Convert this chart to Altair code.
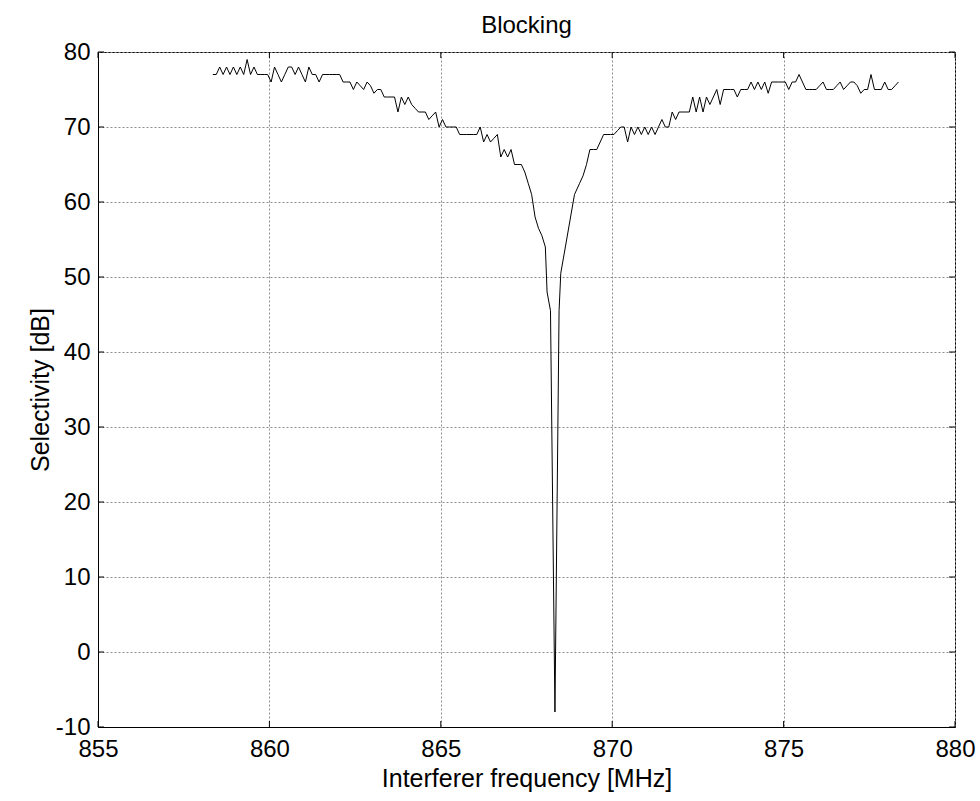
import altair as alt
import pandas as pd

# Left flank (interferer below carrier), 0.1 MHz sweep points
freq_left = [
    858.35, 858.45, 858.55, 858.65, 858.75, 858.85, 858.95, 859.05, 859.15, 859.25,
    859.35, 859.45, 859.55, 859.65, 859.75, 859.85, 859.95, 860.05, 860.15, 860.25,
    860.35, 860.45, 860.55, 860.65, 860.75, 860.85, 860.95, 861.05, 861.15, 861.25,
    861.35, 861.45, 861.55, 861.65, 861.75, 861.85, 861.95, 862.05, 862.15, 862.25,
    862.35, 862.45, 862.55, 862.65, 862.75, 862.85, 862.95, 863.05, 863.15, 863.25,
    863.35, 863.45, 863.55, 863.65, 863.75, 863.85, 863.95, 864.05, 864.15, 864.25,
    864.35, 864.45, 864.55, 864.65, 864.75, 864.85, 864.95, 865.05, 865.15, 865.25,
    865.35, 865.45, 865.55, 865.65, 865.75, 865.85, 865.95, 866.05, 866.15, 866.25,
    866.35, 866.45, 866.55, 866.65, 866.75, 866.85, 866.95, 867.05, 867.15, 867.25,
    867.35,
]
sel_left = [
    77, 77, 78, 77, 78, 77, 78, 77, 78, 77,
    79, 77, 78, 77, 77, 77, 77, 76, 78, 77,
    76, 77, 78, 78, 77, 78, 77, 76, 78, 77,
    77, 76, 77, 77, 77, 77, 77, 77, 76, 76,
    76, 75, 76, 75.5, 75, 76, 75.5, 74.5, 75, 75,
    74, 74, 74, 74, 72, 74, 73, 74, 73, 72.5,
    72, 72, 72, 71, 71.5, 72, 70, 71, 70, 70,
    70, 70, 69, 69, 69, 69, 69, 69, 70, 68,
    69, 68, 68.5, 69, 66, 67, 66, 67, 65, 65,
    65,
]

# Notch around the wanted carrier
freq_notch = [
    867.45, 867.55, 867.65, 867.75, 867.85, 867.95, 868.05, 868.10, 868.20,
    868.33, 868.45, 868.50, 868.90, 869.05, 869.15, 869.25, 869.35, 869.45,
    869.55, 869.65, 869.75,
]
sel_notch = [
    64, 62.5, 61, 58, 56.5, 55.5, 54, 48, 45.5,
    -8, 45.5, 50.5, 61, 62.5, 63.5, 65, 67, 67,
    67, 68, 69,
]

# Right flank (interferer above carrier)
freq_right = [
    869.85, 869.95, 870.05, 870.15, 870.25,
    870.35, 870.45, 870.55, 870.65, 870.75, 870.85, 870.95, 871.05, 871.15, 871.25,
    871.35, 871.45, 871.55, 871.65, 871.75, 871.85, 871.95, 872.05, 872.15, 872.25,
    872.35, 872.45, 872.55, 872.65, 872.75, 872.85, 872.95, 873.05, 873.15, 873.25,
    873.35, 873.45, 873.55, 873.65, 873.75, 873.85, 873.95, 874.05, 874.15, 874.25,
    874.35, 874.45, 874.55, 874.65, 874.75, 874.85, 874.95, 875.05, 875.15, 875.25,
    875.35, 875.45, 875.55, 875.65, 875.75, 875.85, 875.95, 876.05, 876.15, 876.25,
    876.35, 876.45, 876.55, 876.65, 876.75, 876.85, 876.95, 877.05, 877.15, 877.25,
    877.35, 877.45, 877.55, 877.65, 877.75, 877.85, 877.95, 878.05, 878.15, 878.25,
    878.35,
]
sel_right = [
    69, 69, 69, 69.5, 70,
    70, 68, 70, 69, 70, 69, 70, 69, 70, 69,
    70, 71, 70, 70, 72, 71, 72, 72, 72, 72,
    74, 72, 74, 72, 74, 73, 74, 75, 73, 75,
    75, 75, 75, 74, 75, 75, 75, 76, 75, 76,
    75, 76, 74.5, 76, 76, 76, 76, 76, 75, 76,
    76, 77, 76, 75, 75, 75, 75, 75.5, 76, 75,
    75, 75, 75.5, 76, 75, 75.5, 76, 76, 75.5, 74.5,
    75, 75, 77, 75, 75, 75, 76, 75, 75, 75.5,
    76,
]

x_ticks = [855, 860, 865, 870, 875, 880]
y_ticks = [-10, 0, 10, 20, 30, 40, 50, 60, 70, 80]

df = pd.DataFrame({
    "freq": freq_left + freq_notch + freq_right,
    "sel": sel_left + sel_notch + sel_right,
})
xt = pd.DataFrame({"xt": x_ticks})
yt = pd.DataFrame({"yt": y_ticks})

W, H = 857, 675
FONT = "Liberation Sans"
FS_TICK = 24
FS_TITLE = 25

xscale = alt.Scale(domain=[855, 880], nice=False, zero=False)
yscale = alt.Scale(domain=[-10, 80], nice=False, zero=False)

line = alt.Chart(df).mark_line(color="black", strokeWidth=1).encode(
    x=alt.X("freq:Q", scale=xscale,
            axis=alt.Axis(values=x_ticks, title="Interferer frequency [MHz]",
                          labelExpr="datum.value + ''", ticks=False, labelPadding=10,
                          labelFlush=False,
                          titleY=51, titleBaseline="middle", titleAlign="center")),
    y=alt.Y("sel:Q", scale=yscale,
            axis=alt.Axis(values=y_ticks, title="Selectivity [dB]",
                          labelExpr="datum.value + ''", ticks=False, labelPadding=8,
                          labelFlush=False,
                          titleX=-58, titleY=H / 2, titleAngle=-90,
                          titleBaseline="middle", titleAlign="center")),
)

tick_style = dict(color="black", strokeWidth=1)
bottom_ticks = alt.Chart(xt).mark_rule(**tick_style).encode(
    x=alt.X("xt:Q", scale=xscale), y=alt.value(H), y2=alt.value(H - 6))
top_ticks = alt.Chart(xt).mark_rule(**tick_style).encode(
    x=alt.X("xt:Q", scale=xscale), y=alt.value(0), y2=alt.value(6))
left_ticks = alt.Chart(yt).mark_rule(**tick_style).encode(
    y=alt.Y("yt:Q", scale=yscale), x=alt.value(0), x2=alt.value(6))
right_ticks = alt.Chart(yt).mark_rule(**tick_style).encode(
    y=alt.Y("yt:Q", scale=yscale), x=alt.value(W), x2=alt.value(W - 6))

chart = alt.layer(line, bottom_ticks, top_ticks, left_ticks, right_ticks).properties(
    width=W, height=H,
    background="white",
    title=alt.TitleParams("Blocking", font=FONT, fontSize=FS_TICK, fontWeight="normal",
                          color="black", anchor="middle", frame="group", offset=2),
    autosize=alt.AutoSizeParams(type="none"),
    padding={"left": 98, "top": 52, "right": 25, "bottom": 74},
).configure_axis(
    grid=True, gridColor="#8c8c8c", gridDash=[2, 2], gridWidth=1,
    domain=True, domainColor="black", domainWidth=1,
    labelFont=FONT, labelFontSize=FS_TICK, labelColor="black",
    titleFont=FONT, titleFontSize=FS_TITLE, titleColor="black", titleFontWeight="normal",
).configure_view(
    stroke="black", strokeWidth=1,
)

chart.save("out.html", embed_options={"renderer": "svg", "actions": False})
